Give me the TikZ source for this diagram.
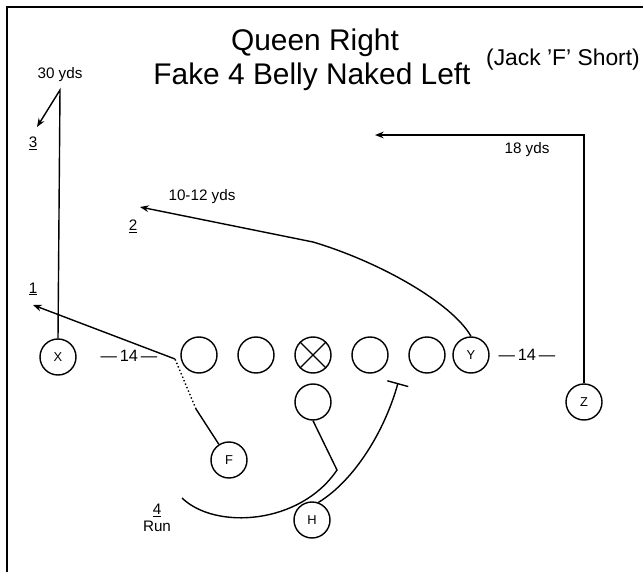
\documentclass[tikz,border=0pt]{standalone}
\usepackage{fontspec}
\setmainfont{Liberation Sans}
\usetikzlibrary{arrows.meta}
\tikzset{
  player/.style={circle,draw,line width=1.2pt,minimum size=1.08cm,inner sep=0pt,font=\fontsize{11}{11}\selectfont},
  route/.style={line width=1.2pt},
  go/.style={route,-{Stealth[length=2.6mm,width=2mm]}},
  lbl/.style={font=\fontsize{13}{14}\selectfont,inner sep=1pt},
}
\begin{document}
\begin{tikzpicture}[x=0.03cm,y=-0.03cm]
\useasboundingbox (0,0) rectangle (643,572);
\draw[line width=1.6pt](643,7)--(7,7)--(7,572);
%
\node[font=\fontsize{25.5}{25.5}\selectfont](title1) at (315,43){Queen Right};
\node[font=\fontsize{25.5}{25.5}\selectfont](title2) at (312,77){Fake 4 Belly Naked Left};
\node[font=\fontsize{19.5}{19.5}\selectfont](note) at (563,60){(Jack 'F' Short)};
%
\node[player](x) at (58,357){X};
\node[player](lt) at (199,355){};
\node[player](lg) at (256,355){};
\node[player](c) at (313,355){};
\draw[line width=1.2pt](c.45)--(c.225) (c.135)--(c.-45);
\node[player](rg) at (370,355){};
\node[player](rt) at (427,355){};
\node[player](y) at (471,355){Y};
\node[player](qb) at (313,402){};
\node[player](z) at (584,402){Z};
\node[player](f) at (229,460){F};
\node[player](h) at (312,520){H};
%
\node[lbl,font=\fontsize{14}{14}\selectfont](split1) at (129,356){—\,14\,—};
\node[lbl,font=\fontsize{14}{14}\selectfont](split2) at (527,355){—\,14\,—};
%
\coordinate(xtop) at (60,90);
\coordinate(xend) at (37,127);
\draw[go](x.north)--(xtop)--(xend);
\node[lbl](yds30) at (60,75){30 yds};
\node[lbl](n3) at (33,143){\underline{3}};
%
\coordinate(ztop) at (584,135);
\coordinate(zend) at (375,135);
\draw[go](z.north)--(ztop)--(zend);
\node[lbl](yds18) at (527,150){18 yds};
%
\coordinate(ybend) at (313,242);
\coordinate(yend) at (140,207);
\draw[go](y.north) .. controls (452,303) and (380,262) .. (ybend)--(yend);
\node[lbl](yds1012) at (202,197){10-12 yds};
\node[lbl](n2) at (133,226){\underline{2}};
%
\coordinate(fbend) at (196,409);
\coordinate(fdot) at (175,359);
\coordinate(fend) at (33,305);
\draw[route](f)--(fbend);
\draw[route,dotted](fbend)--(fdot);
\draw[go](fdot)--(fend);
\node[lbl](n1) at (33,289){\underline{1}};
%
\coordinate(qbend) at (337,470);
\coordinate(qbend2) at (182,498);
\draw[route](qb.south)--(qbend) .. controls (300,525) and (215,530) .. (qbend2);
\node[lbl,align=center](run) at (157,518){\underline{4}\\Run};
%
\coordinate(block) at (398,383);
\draw[route,-{Bar[width=6.5mm]}](h.70) .. controls (355,480) and (385,430) .. (block);
\end{tikzpicture}
\end{document}
